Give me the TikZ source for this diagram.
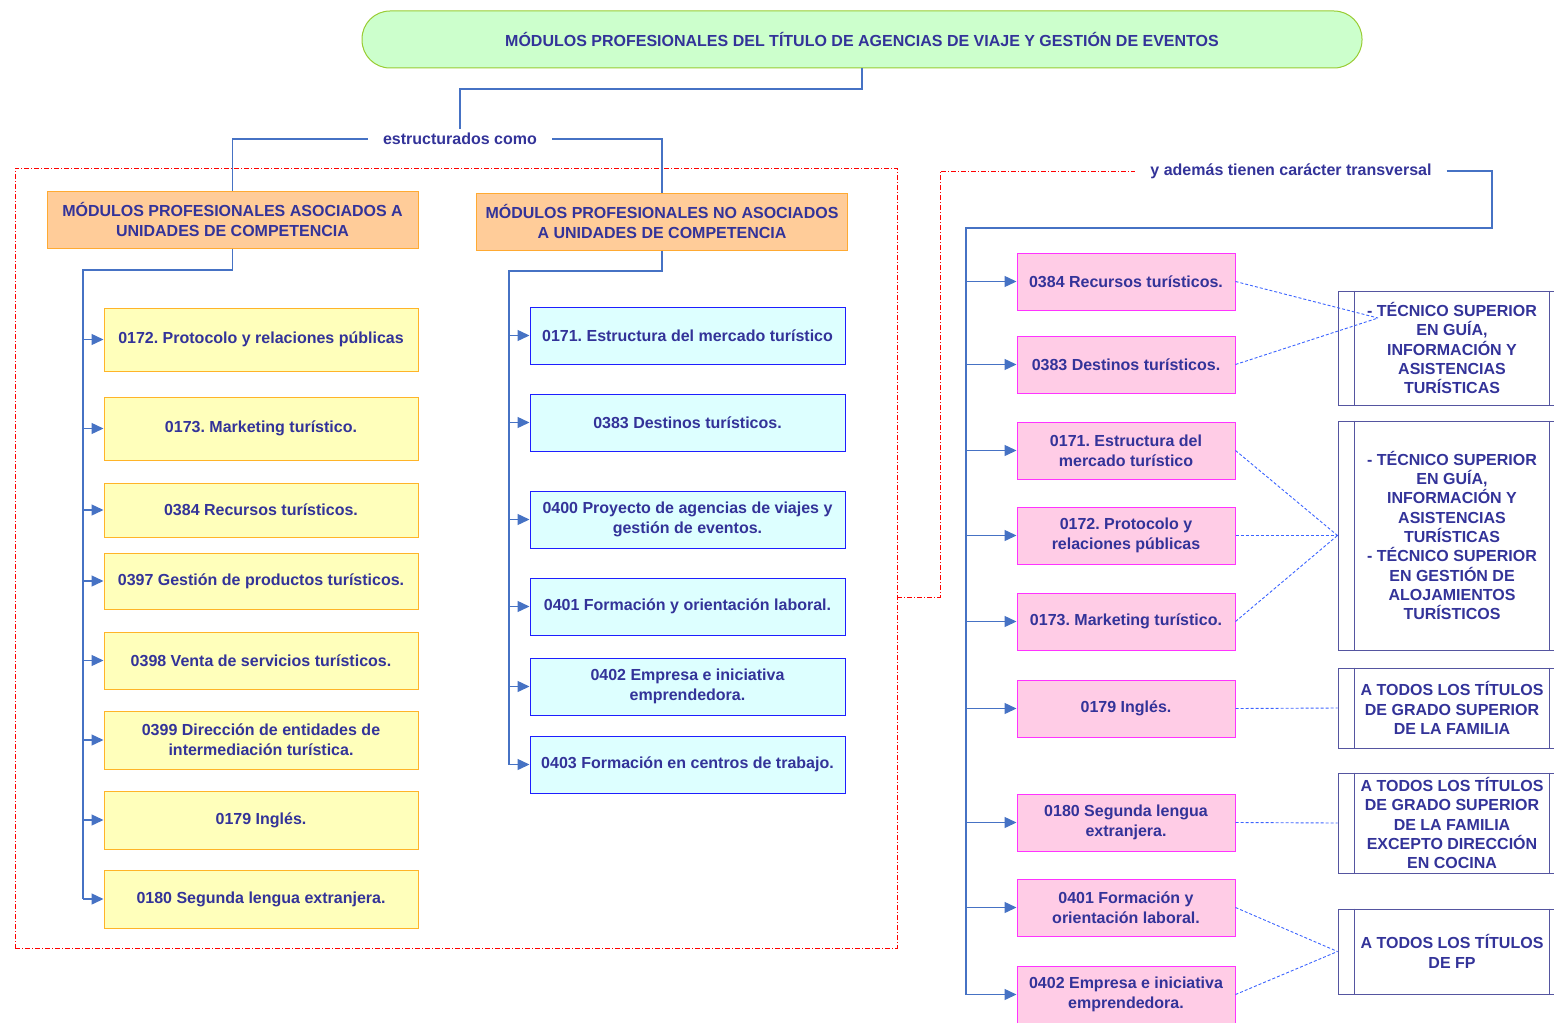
\documentclass[tikz,border=0pt]{standalone}
\usepackage{fontspec}
\setmainfont{Liberation Sans}
\usetikzlibrary{arrows.meta}
\definecolor{txt}{RGB}{51,51,153}
\definecolor{ttlfill}{RGB}{204,255,204}
\definecolor{ttldraw}{RGB}{153,204,51}
\definecolor{ofill}{RGB}{255,204,153}
\definecolor{odraw}{RGB}{255,170,50}
\definecolor{yfill}{RGB}{255,255,187}
\definecolor{ydraw}{RGB}{255,180,40}
\definecolor{cfill}{RGB}{221,255,255}
\definecolor{cdraw}{RGB}{30,30,255}
\definecolor{pfill}{RGB}{255,204,230}
\definecolor{pdraw}{RGB}{255,51,255}
\definecolor{rdraw}{RGB}{85,85,160}
\definecolor{lnk}{RGB}{70,114,196}
\definecolor{dblue}{RGB}{60,100,255}
\tikzset{
  box/.style={draw, line width=1pt, align=center, inner sep=2pt, text=txt},
  ttl/.style={box, fill=ttlfill, draw=ttldraw, rounded corners=28pt, minimum width=1000pt, minimum height=57pt},
  obox/.style={box, fill=ofill, draw=odraw, minimum width=371pt, minimum height=57pt},
  ybox/.style={box, fill=yfill, draw=ydraw, minimum width=314pt},
  cbox/.style={box, fill=cfill, draw=cdraw, minimum width=315pt, minimum height=57pt},
  pbox/.style={box, fill=pfill, draw=pdraw, minimum width=218pt, minimum height=57pt},
  rbox/.style={box, draw=rdraw, fill=white, minimum width=228pt, font=\bfseries\fontsize{16}{19.3}\selectfont},
  lbl/.style={inner xsep=15pt, inner ysep=4pt, text=txt},
  conn/.style={draw=lnk, line width=1.4pt},
  arr/.style={conn, -{Triangle[length=12pt,width=11pt]}},
  dsh/.style={draw=dblue, line width=0.9pt, dash pattern=on 3pt off 2pt},
  reddash/.style={draw=red, line width=0.9pt, dash pattern=on 5pt off 2pt on 1pt off 2pt},
}
\begin{document}
\frenchspacing
\begin{tikzpicture}[x=1pt,y=-1pt,font=\bfseries\fontsize{16}{20}\selectfont]
\useasboundingbox (0,0) rectangle (1554,1022);
% frame
\node[reddash, draw, minimum width=882pt, minimum height=780pt, inner sep=0pt] (frame) at (456,558) {};
% title
\node[ttl] (title) at (862,39.5) {MÓDULOS PROFESIONALES DEL TÍTULO DE AGENCIAS DE VIAJE Y GESTIÓN DE EVENTOS};
\node[lbl] (est) at (460,139) {estructurados como};
\node[obox] (o1) at (232.5,219.5) {MÓDULOS PROFESIONALES ASOCIADOS A\\UNIDADES DE COMPETENCIA};
\node[obox] (o2) at (662,221.5) {MÓDULOS PROFESIONALES NO ASOCIADOS\\A UNIDADES DE COMPETENCIA};
% yellow
\node[ybox, minimum height=63pt] (y1) at (261,339.5) {0172. Protocolo y relaciones públicas};
\node[ybox, minimum height=63pt] (y2) at (261,428.5) {0173. Marketing turístico.};
\node[ybox, minimum height=54pt] (y3) at (261,510) {0384 Recursos turísticos.};
\node[ybox, minimum height=56pt] (y4) at (261,581) {0397 Gestión de productos turísticos.};
\node[ybox, minimum height=57pt] (y5) at (261,660.5) {0398 Venta de servicios turísticos.};
\node[ybox, minimum height=58pt] (y6) at (261,740) {0399 Dirección de entidades de\\intermediación turística.};
\node[ybox, minimum height=58pt] (y7) at (261,820) {0179 Inglés.};
\node[ybox, minimum height=58pt] (y8) at (261,899) {0180 Segunda lengua extranjera.};
% cyan
\node[cbox] (c1) at (687.5,335.5) {0171. Estructura del mercado turístico};
\node[cbox] (c2) at (687.5,422.5) {0383 Destinos turísticos.};
\node[cbox] (c3) at (687.5,519.5) {0400 Proyecto de agencias de viajes y\\gestión de eventos.};
\node[cbox] (c4) at (687.5,606.5) {0401 Formación y orientación laboral.};
\node[cbox] (c5) at (687.5,686.5) {0402 Empresa e iniciativa\\emprendedora.};
\node[cbox] (c6) at (687.5,764.5) {0403 Formación en centros de trabajo.};
% right
\node[lbl] (ya) at (1291,171) {y además tienen carácter transversal};
\node[pbox] (p1) at (1126,281.5) {0384 Recursos turísticos.};
\node[pbox] (p2) at (1126,364.5) {0383 Destinos turísticos.};
\node[pbox] (p3) at (1126,450.5) {0171. Estructura del\\mercado turístico};
\node[pbox] (p4) at (1126,535.5) {0172. Protocolo y\\relaciones públicas};
\node[pbox] (p5) at (1126,621.5) {0173. Marketing turístico.};
\node[pbox] (p6) at (1126,708.5) {0179 Inglés.};
\node[pbox] (p7) at (1126,822.5) {0180 Segunda lengua\\extranjera.};
\node[pbox] (p8) at (1126,907.5) {0401 Formación y\\orientación laboral.};
\node[pbox] (p9) at (1126,994.5) {0402 Empresa e iniciativa\\emprendedora.};
\node[rbox, minimum height=114pt] (rA) at (1452,348) {- TÉCNICO SUPERIOR\\EN GUÍA,\\INFORMACIÓN Y\\ASISTENCIAS\\TURÍSTICAS};
\node[rbox, minimum height=229pt] (rB) at (1452,535.5) {- TÉCNICO SUPERIOR\\EN GUÍA,\\INFORMACIÓN Y\\ASISTENCIAS\\TURÍSTICAS\\- TÉCNICO SUPERIOR\\EN GESTIÓN DE\\ALOJAMIENTOS\\TURÍSTICOS};
\node[rbox, minimum height=80pt] (rC) at (1452,708) {A TODOS LOS TÍTULOS\\DE GRADO SUPERIOR\\DE LA FAMILIA};
\node[rbox, minimum height=100pt] (rD) at (1452,823) {A TODOS LOS TÍTULOS\\DE GRADO SUPERIOR\\DE LA FAMILIA\\EXCEPTO DIRECCIÓN\\EN COCINA};
\node[rbox, minimum height=85pt] (rE) at (1452,951.5) {A TODOS LOS TÍTULOS\\DE FP};
\foreach \r in {rA,rB,rC,rD,rE}{
  \draw[draw=rdraw, line width=1pt] ([xshift=17pt]\r.north west) -- ([xshift=17pt]\r.south west);
  \draw[draw=rdraw, line width=1pt] ([xshift=-17pt]\r.north east) -- ([xshift=-17pt]\r.south east);
}
% connectors top
\coordinate (tk1) at (862,89);
\draw[conn] (title.south) -- (tk1) -| (est.north);
\draw[conn] (est.west) -| (o1.north);
\draw[conn] (est.east) -| (o2.north);
\coordinate (tl) at (83,270);
\draw[conn] (o1.south) |- (tl) -- (tl |- y8.west);
\foreach \n in {y1,y2,y3,y4,y5,y6,y7,y8}{\draw[arr] (tl |- \n.west) -- (\n.west);}
\coordinate (tm) at (509,271);
\draw[conn] (o2.south) |- (tm) -- (tm |- c6.west);
\foreach \n in {c1,c2,c3,c4,c5,c6}{\draw[arr] (tm |- \n.west) -- (\n.west);}
% red link
\coordinate (rj) at (897,597);
\coordinate (rk) at (940,597);
\draw[reddash] (frame.east |- rj) -- (rk) |- (ya.west);
% right trunk
\coordinate (tk2) at (1492,228);
\coordinate (trr) at (966,228);
\draw[conn] (ya.east) -| (tk2) -- (trr) -- (trr |- p9.west);
\foreach \n in {p1,p2,p3,p4,p5,p6,p7,p8,p9}{\draw[arr] (trr |- \n.west) -- (\n.west);}
% dashed
\coordinate (mA) at (1378,318);
\draw[dsh] (p1.east) -- (mA);
\draw[dsh] (p2.east) -- (mA);
\draw[dsh] (p3.east) -- (rB.west);
\draw[dsh] (p4.east) -- (rB.west);
\draw[dsh] (p5.east) -- (rB.west);
\draw[dsh] (p6.east) -- (rC.west);
\draw[dsh] (p7.east) -- (rD.west);
\draw[dsh] (p8.east) -- (rE.west);
\draw[dsh] (p9.east) -- (rE.west);
\end{tikzpicture}
\end{document}
